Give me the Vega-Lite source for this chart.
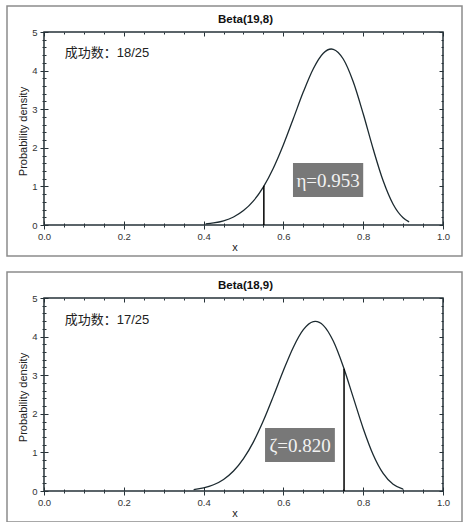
{
  "$schema": "https://vega.github.io/schema/vega-lite/v6.json",
  "padding": {"left": 6, "top": 5, "right": 0, "bottom": 0},
  "background": "white",
  "spacing": 14,
  "config": {
    "view": {"stroke": "#8c8c8c", "strokeWidth": 1.5},
    "axis": {"grid": false, "domain": false, "labelFont": "Liberation Sans", "titleFont": "Liberation Sans", "tickColor": "#263238", "labelColor": "#333333", "titleColor": "#222222", "labelFontSize": 9.5, "titleFontSize": 11, "titleFontWeight": "normal", "labelOverlap": false}
  },
  "datasets": {
    "beta19_8": [
      {"x": 0.405, "density": 0.028}, {"x": 0.425, "density": 0.053}, {"x": 0.45, "density": 0.109},
      {"x": 0.475, "density": 0.208}, {"x": 0.5, "density": 0.373}, {"x": 0.525, "density": 0.626},
      {"x": 0.55, "density": 0.99}, {"x": 0.575, "density": 1.478}, {"x": 0.6, "density": 2.08},
      {"x": 0.625, "density": 2.76}, {"x": 0.65, "density": 3.45}, {"x": 0.675, "density": 4.05},
      {"x": 0.7, "density": 4.451}, {"x": 0.72, "density": 4.56}, {"x": 0.725, "density": 4.553},
      {"x": 0.75, "density": 4.3}, {"x": 0.775, "density": 3.711}, {"x": 0.8, "density": 2.882},
      {"x": 0.825, "density": 1.969}, {"x": 0.85, "density": 1.146}, {"x": 0.875, "density": 0.539},
      {"x": 0.9, "density": 0.188}, {"x": 0.915, "density": 0.081}
    ],
    "beta18_9": [
      {"x": 0.375, "density": 0.038}, {"x": 0.4, "density": 0.081}, {"x": 0.425, "density": 0.162},
      {"x": 0.45, "density": 0.3}, {"x": 0.475, "density": 0.518}, {"x": 0.5, "density": 0.838},
      {"x": 0.525, "density": 1.274}, {"x": 0.55, "density": 1.824}, {"x": 0.575, "density": 2.458},
      {"x": 0.6, "density": 3.12}, {"x": 0.625, "density": 3.726}, {"x": 0.65, "density": 4.179},
      {"x": 0.675, "density": 4.388}, {"x": 0.68, "density": 4.394}, {"x": 0.7, "density": 4.292},
      {"x": 0.725, "density": 3.885}, {"x": 0.75, "density": 3.226}, {"x": 0.775, "density": 2.425},
      {"x": 0.8, "density": 1.621}, {"x": 0.825, "density": 0.94}, {"x": 0.85, "density": 0.455},
      {"x": 0.875, "density": 0.173}, {"x": 0.9, "density": 0.047}
    ],
    "info1": [{"title": "Beta(19,8)", "note": "成功数：18/25", "stat": "η=0.953", "cut": 0.551, "cutDensity": 1.02, "xmin": 0, "xmax": 1, "ymin": 0, "ymax": 5, "boxX": 0.624, "boxX2": 0.8, "boxY": 0.725, "boxY2": 1.606}],
    "info2": [{"title": "Beta(18,9)", "note": "成功数：17/25", "stat": "ζ=0.820", "cut": 0.752, "cutDensity": 3.17, "xmin": 0, "xmax": 1, "ymin": 0, "ymax": 5, "boxX": 0.554, "boxX2": 0.729, "boxY": 0.75, "boxY2": 1.63}]
  },
  "vconcat": [
    {
      "width": 455,
      "height": 250,
      "resolve": {"axis": {"x": "independent", "y": "independent"}},
      "layer": [
        {
          "data": {"name": "info1"},
          "mark": {"type": "rect", "fill": null, "fillOpacity": 0, "stroke": "#263238", "strokeWidth": 1.5},
          "encoding": {
            "x": {"field": "xmin", "type": "quantitative", "scale": {"domain": [-0.0927, 1.0476], "nice": false, "zero": false},
              "axis": {"orient": "bottom", "offset": -31, "values": [0,0.05,0.1,0.15,0.2,0.25,0.3,0.35,0.4,0.45,0.5,0.55,0.6,0.65,0.7,0.75,0.8,0.85,0.9,0.95,1],
                "labelExpr": "abs(datum.value*5-round(datum.value*5))<0.001 ? format(datum.value,'.1f') : ''",
                "tickSize": {"condition": {"test": "abs(datum.value*5-round(datum.value*5))<0.001", "value": 4}, "value": 2},
                "labelPadding": 2, "title": "x", "titlePadding": 1}},
            "x2": {"field": "xmax"},
            "y": {"field": "ymin", "type": "quantitative", "scale": {"domain": [-0.803, 5.674], "nice": false, "zero": false},
              "axis": {"orient": "left", "offset": -37, "values": [0,0.2,0.4,0.6,0.8,1,1.2,1.4,1.6,1.8,2,2.2,2.4,2.6,2.8,3,3.2,3.4,3.6,3.8,4,4.2,4.4,4.6,4.8,5],
                "labelExpr": "abs(datum.value-round(datum.value))<0.001 ? format(datum.value,'d') : ''",
                "tickSize": {"condition": {"test": "abs(datum.value-round(datum.value))<0.001", "value": 4}, "value": 2},
                "labelPadding": 3, "title": "Probability density", "titlePadding": 3}},
            "y2": {"field": "ymax"}
          }
        },
        {
          "data": {"name": "beta19_8"},
          "mark": {"type": "line", "color": "#1c2a30", "strokeWidth": 1.3, "interpolate": "monotone"},
          "encoding": {
            "x": {"field": "x", "type": "quantitative", "scale": {"domain": [-0.0927, 1.0476], "nice": false, "zero": false},
              "axis": {"orient": "top", "offset": -26, "values": [0,0.05,0.1,0.15,0.2,0.25,0.3,0.35,0.4,0.45,0.5,0.55,0.6,0.65,0.7,0.75,0.8,0.85,0.9,0.95,1],
                "labels": false, "title": null,
                "tickSize": {"condition": {"test": "abs(datum.value*5-round(datum.value*5))<0.001", "value": -4}, "value": -2}}},
            "y": {"field": "density", "type": "quantitative", "scale": {"domain": [-0.803, 5.674], "nice": false, "zero": false},
              "axis": {"orient": "right", "offset": -19, "values": [0,0.2,0.4,0.6,0.8,1,1.2,1.4,1.6,1.8,2,2.2,2.4,2.6,2.8,3,3.2,3.4,3.6,3.8,4,4.2,4.4,4.6,4.8,5],
                "labels": false, "title": null,
                "tickSize": {"condition": {"test": "abs(datum.value-round(datum.value))<0.001", "value": -4}, "value": -2}}}
          }
        },
        {
          "data": {"name": "info1"},
          "mark": {"type": "rule", "color": "#000000", "strokeWidth": 1.5},
          "encoding": {
            "x": {"field": "cut", "type": "quantitative", "scale": {"domain": [-0.0927, 1.0476], "nice": false, "zero": false},
              "axis": {"orient": "bottom", "offset": -31, "values": [0,0.05,0.1,0.15,0.2,0.25,0.3,0.35,0.4,0.45,0.5,0.55,0.6,0.65,0.7,0.75,0.8,0.85,0.9,0.95,1],
                "labels": false, "title": null,
                "tickSize": {"condition": {"test": "abs(datum.value*5-round(datum.value*5))<0.001", "value": -4}, "value": -2}}},
            "y": {"field": "ymin", "type": "quantitative", "scale": {"domain": [-0.803, 5.674], "nice": false, "zero": false},
              "axis": {"orient": "left", "offset": -37, "values": [0,0.2,0.4,0.6,0.8,1,1.2,1.4,1.6,1.8,2,2.2,2.4,2.6,2.8,3,3.2,3.4,3.6,3.8,4,4.2,4.4,4.6,4.8,5],
                "labels": false, "title": null,
                "tickSize": {"condition": {"test": "abs(datum.value-round(datum.value))<0.001", "value": -4}, "value": -2}}},
            "y2": {"field": "cutDensity"}
          }
        },
        {
          "data": {"name": "info1"},
          "mark": {"type": "rect", "fill": "#787878"},
          "encoding": {
            "x": {"field": "boxX", "type": "quantitative", "scale": {"domain": [-0.0927, 1.0476], "nice": false, "zero": false}, "axis": null},
            "x2": {"field": "boxX2"},
            "y": {"field": "boxY", "type": "quantitative", "scale": {"domain": [-0.803, 5.674], "nice": false, "zero": false}, "axis": null},
            "y2": {"field": "boxY2"}
          }
        },
        {
          "data": {"name": "info1"},
          "mark": {"type": "text", "font": "Liberation Serif", "fontSize": 19, "color": "#f2f2f2", "align": "center", "baseline": "middle"},
          "encoding": {
            "x": {"datum": 0.712, "type": "quantitative", "scale": {"domain": [-0.0927, 1.0476], "nice": false, "zero": false}, "axis": null},
            "y": {"datum": 1.14, "type": "quantitative", "scale": {"domain": [-0.803, 5.674], "nice": false, "zero": false}, "axis": null},
            "text": {"field": "stat"}
          }
        },
        {
          "data": {"name": "info1"},
          "mark": {"type": "text", "font": "Liberation Sans, Noto Sans CJK SC", "fontSize": 13, "color": "#222222", "align": "left", "baseline": "middle"},
          "encoding": {
            "x": {"datum": 0.052, "type": "quantitative", "scale": {"domain": [-0.0927, 1.0476], "nice": false, "zero": false}, "axis": null},
            "y": {"datum": 4.45, "type": "quantitative", "scale": {"domain": [-0.803, 5.674], "nice": false, "zero": false}, "axis": null},
            "text": {"field": "note"}
          }
        },
        {
          "data": {"name": "info1"},
          "mark": {"type": "text", "font": "Liberation Sans", "fontSize": 11.5, "fontWeight": "bold", "color": "#111111", "align": "center", "baseline": "middle"},
          "encoding": {
            "x": {"datum": 0.505, "type": "quantitative", "scale": {"domain": [-0.0927, 1.0476], "nice": false, "zero": false}, "axis": null},
            "y": {"datum": 5.31, "type": "quantitative", "scale": {"domain": [-0.803, 5.674], "nice": false, "zero": false}, "axis": null},
            "text": {"field": "title"}
          }
        }
      ]
    },
    {
      "width": 455,
      "height": 250,
      "resolve": {"axis": {"x": "independent", "y": "independent"}},
      "layer": [
        {
          "data": {"name": "info2"},
          "mark": {"type": "rect", "fill": null, "fillOpacity": 0, "stroke": "#263238", "strokeWidth": 1.5},
          "encoding": {
            "x": {"field": "xmin", "type": "quantitative", "scale": {"domain": [-0.0927, 1.0476], "nice": false, "zero": false},
              "axis": {"orient": "bottom", "offset": -31, "values": [0,0.05,0.1,0.15,0.2,0.25,0.3,0.35,0.4,0.45,0.5,0.55,0.6,0.65,0.7,0.75,0.8,0.85,0.9,0.95,1],
                "labelExpr": "abs(datum.value*5-round(datum.value*5))<0.001 ? format(datum.value,'.1f') : ''",
                "tickSize": {"condition": {"test": "abs(datum.value*5-round(datum.value*5))<0.001", "value": 4}, "value": 2},
                "labelPadding": 2, "title": "x", "titlePadding": 1}},
            "x2": {"field": "xmax"},
            "y": {"field": "ymin", "type": "quantitative", "scale": {"domain": [-0.803, 5.674], "nice": false, "zero": false},
              "axis": {"orient": "left", "offset": -37, "values": [0,0.2,0.4,0.6,0.8,1,1.2,1.4,1.6,1.8,2,2.2,2.4,2.6,2.8,3,3.2,3.4,3.6,3.8,4,4.2,4.4,4.6,4.8,5],
                "labelExpr": "abs(datum.value-round(datum.value))<0.001 ? format(datum.value,'d') : ''",
                "tickSize": {"condition": {"test": "abs(datum.value-round(datum.value))<0.001", "value": 4}, "value": 2},
                "labelPadding": 3, "title": "Probability density", "titlePadding": 3}},
            "y2": {"field": "ymax"}
          }
        },
        {
          "data": {"name": "beta18_9"},
          "mark": {"type": "line", "color": "#1c2a30", "strokeWidth": 1.3, "interpolate": "monotone"},
          "encoding": {
            "x": {"field": "x", "type": "quantitative", "scale": {"domain": [-0.0927, 1.0476], "nice": false, "zero": false},
              "axis": {"orient": "top", "offset": -26, "values": [0,0.05,0.1,0.15,0.2,0.25,0.3,0.35,0.4,0.45,0.5,0.55,0.6,0.65,0.7,0.75,0.8,0.85,0.9,0.95,1],
                "labels": false, "title": null,
                "tickSize": {"condition": {"test": "abs(datum.value*5-round(datum.value*5))<0.001", "value": -4}, "value": -2}}},
            "y": {"field": "density", "type": "quantitative", "scale": {"domain": [-0.803, 5.674], "nice": false, "zero": false},
              "axis": {"orient": "right", "offset": -19, "values": [0,0.2,0.4,0.6,0.8,1,1.2,1.4,1.6,1.8,2,2.2,2.4,2.6,2.8,3,3.2,3.4,3.6,3.8,4,4.2,4.4,4.6,4.8,5],
                "labels": false, "title": null,
                "tickSize": {"condition": {"test": "abs(datum.value-round(datum.value))<0.001", "value": -4}, "value": -2}}}
          }
        },
        {
          "data": {"name": "info2"},
          "mark": {"type": "rule", "color": "#000000", "strokeWidth": 1.5},
          "encoding": {
            "x": {"field": "cut", "type": "quantitative", "scale": {"domain": [-0.0927, 1.0476], "nice": false, "zero": false},
              "axis": {"orient": "bottom", "offset": -31, "values": [0,0.05,0.1,0.15,0.2,0.25,0.3,0.35,0.4,0.45,0.5,0.55,0.6,0.65,0.7,0.75,0.8,0.85,0.9,0.95,1],
                "labels": false, "title": null,
                "tickSize": {"condition": {"test": "abs(datum.value*5-round(datum.value*5))<0.001", "value": -4}, "value": -2}}},
            "y": {"field": "ymin", "type": "quantitative", "scale": {"domain": [-0.803, 5.674], "nice": false, "zero": false},
              "axis": {"orient": "left", "offset": -37, "values": [0,0.2,0.4,0.6,0.8,1,1.2,1.4,1.6,1.8,2,2.2,2.4,2.6,2.8,3,3.2,3.4,3.6,3.8,4,4.2,4.4,4.6,4.8,5],
                "labels": false, "title": null,
                "tickSize": {"condition": {"test": "abs(datum.value-round(datum.value))<0.001", "value": -4}, "value": -2}}},
            "y2": {"field": "cutDensity"}
          }
        },
        {
          "data": {"name": "info2"},
          "mark": {"type": "rect", "fill": "#787878"},
          "encoding": {
            "x": {"field": "boxX", "type": "quantitative", "scale": {"domain": [-0.0927, 1.0476], "nice": false, "zero": false}, "axis": null},
            "x2": {"field": "boxX2"},
            "y": {"field": "boxY", "type": "quantitative", "scale": {"domain": [-0.803, 5.674], "nice": false, "zero": false}, "axis": null},
            "y2": {"field": "boxY2"}
          }
        },
        {
          "data": {"name": "info2"},
          "mark": {"type": "text", "font": "Liberation Serif", "fontSize": 19, "color": "#f2f2f2", "align": "center", "baseline": "middle"},
          "encoding": {
            "x": {"datum": 0.642, "type": "quantitative", "scale": {"domain": [-0.0927, 1.0476], "nice": false, "zero": false}, "axis": null},
            "y": {"datum": 1.17, "type": "quantitative", "scale": {"domain": [-0.803, 5.674], "nice": false, "zero": false}, "axis": null},
            "text": {"field": "stat"}
          }
        },
        {
          "data": {"name": "info2"},
          "mark": {"type": "text", "font": "Liberation Sans, Noto Sans CJK SC", "fontSize": 13, "color": "#222222", "align": "left", "baseline": "middle"},
          "encoding": {
            "x": {"datum": 0.052, "type": "quantitative", "scale": {"domain": [-0.0927, 1.0476], "nice": false, "zero": false}, "axis": null},
            "y": {"datum": 4.43, "type": "quantitative", "scale": {"domain": [-0.803, 5.674], "nice": false, "zero": false}, "axis": null},
            "text": {"field": "note"}
          }
        },
        {
          "data": {"name": "info2"},
          "mark": {"type": "text", "font": "Liberation Sans", "fontSize": 11.5, "fontWeight": "bold", "color": "#111111", "align": "center", "baseline": "middle"},
          "encoding": {
            "x": {"datum": 0.505, "type": "quantitative", "scale": {"domain": [-0.0927, 1.0476], "nice": false, "zero": false}, "axis": null},
            "y": {"datum": 5.31, "type": "quantitative", "scale": {"domain": [-0.803, 5.674], "nice": false, "zero": false}, "axis": null},
            "text": {"field": "title"}
          }
        }
      ]
    }
  ]
}
